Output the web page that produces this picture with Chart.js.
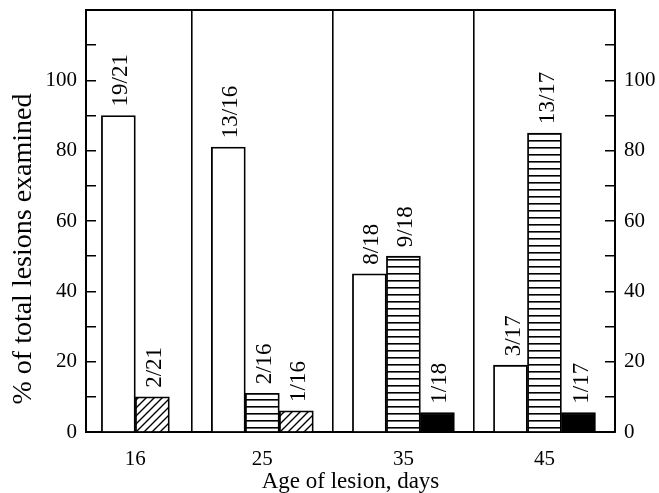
<!DOCTYPE html>
<html><head><meta charset="utf-8">
<script src="https://cdn.jsdelivr.net/npm/chart.js@4"></script>
<style>html,body{margin:0;padding:0;background:#fff;}</style>
</head><body>
<canvas id="c" width="659" height="493"></canvas>
<script>
// Age of lesion (days) for each group, and the group separators (days)
const ages = [16, 25, 35, 45];
const groupBoundaries = [20, 30, 40];
// Percent of total lesions examined, by bar position within each group
const firstValues  = [90, 81, 45, 19];
const secondValues = [10, 11, 50, 85];
const thirdValues  = [null, 6, 5.5, 5.5];
// Fraction labels written above each bar
const firstLabels  = ['19/21', '13/16', '8/18', '3/17'];
const secondLabels = ['2/21', '2/16', '9/18', '13/17'];
const thirdLabels  = [null, '1/16', '1/18', '1/17'];
// Fill style of each bar
const secondFills = ['hatch', 'stripe', 'stripe', 'stripe'];
const thirdFills  = [null, 'hatch', 'solid', 'solid'];
// Y ticks
const yMax = 120, yStep = 10, yLabelStep = 20, yLabelMax = 100;

const FONT = 'Liberation Serif';

function makeFill(kind) {
  if (kind === 'solid') return '#000';
  if (kind === 'white' || !kind) return '#fff';
  const c = document.createElement('canvas');
  const g = c.getContext('2d');
  if (kind === 'stripe') {
    c.width = 8; c.height = 7;
    g.fillStyle = '#fff'; g.fillRect(0, 0, 8, 7);
    g.fillStyle = '#000'; g.fillRect(0, 0, 8, 1.6);
  } else if (kind === 'hatch') {
    c.width = 8; c.height = 8;
    g.fillStyle = '#fff'; g.fillRect(0, 0, 8, 8);
    g.strokeStyle = '#000'; g.lineWidth = 1.4;
    g.beginPath();
    g.moveTo(0, 8); g.lineTo(8, 0);
    g.moveTo(-2, 2); g.lineTo(2, -2);
    g.moveTo(6, 10); g.lineTo(10, 6);
    g.stroke();
  }
  return g.createPattern(c, 'repeat');
}

const barLabelPlugin = {
  id: 'barLabels',
  afterDatasetsDraw(chart) {
    const ctx = chart.ctx;
    chart.data.datasets.forEach((ds, di) => {
      const meta = chart.getDatasetMeta(di);
      meta.data.forEach((bar, i) => {
        const t = ds.barLabels[i];
        if (!t || ds.data[i] == null) return;
        ctx.save();
        ctx.translate(bar.x + 3, bar.y - 9);
        ctx.rotate(-Math.PI / 2);
        ctx.font = '23px "' + FONT + '"';
        ctx.fillStyle = '#000';
        ctx.textAlign = 'left';
        ctx.textBaseline = 'middle';
        ctx.fillText(t, 0, 0);
        ctx.restore();
      });
    });
  }
};

const tickFont = { family: FONT, size: 21 };
const yTickCallback = v => (v % yLabelStep === 0 && v <= yLabelMax) ? String(v) : '';

function yAxis(position, width) {
  return {
    position, min: 0, max: yMax,
    ticks: { stepSize: yStep, autoSkip: false, padding: 19, color: '#000', font: tickFont, callback: yTickCallback },
    grid: { drawOnChartArea: false, drawTicks: true, tickLength: -10, color: '#000', lineWidth: 1.5 },
    border: { display: true, color: '#000', width: 2 },
    afterFit: s => { s.width = width; s.paddingTop = 0; s.paddingBottom = 0; }
  };
}

const leftY = yAxis('left', 86);
leftY.title = { display: true, text: '% of total lesions examined' + '\u00a0'.repeat(8), color: '#000', font: { family: FONT, size: 28 }, padding: { top: 7, bottom: 0 } };

new Chart(document.getElementById('c'), {
  type: 'bar',
  data: {
    labels: ages,
    datasets: [
      { data: firstValues, backgroundColor: '#fff', barLabels: firstLabels },
      { data: secondValues, backgroundColor: secondFills.map(makeFill), barLabels: secondLabels },
      { data: thirdValues, backgroundColor: thirdFills.map(makeFill), barLabels: thirdLabels }
    ]
  },
  options: {
    responsive: false,
    animation: false,
    layout: { padding: 0 },
    datasets: { bar: { skipNull: true, barThickness: 34, borderColor: '#000', borderWidth: 1.8 } },
    plugins: { legend: { display: false }, tooltip: { enabled: false } },
    scales: {
      x: {
        type: 'linear', position: 'bottom', min: 12.5, max: 50, offset: false,
        afterBuildTicks: s => {
          s.ticks = [...ages, ...groupBoundaries].sort((a, b) => a - b).map(v => ({ value: v }));
        },
        grid: {
          offset: false, drawTicks: false, drawOnChartArea: true, lineWidth: 1.6,
          color: c => (c.tick && groupBoundaries.includes(c.tick.value)) ? '#000' : 'rgba(0,0,0,0)'
        },
        border: { display: true, color: '#000', width: 2 },
        ticks: { autoSkip: false, maxRotation: 0, padding: 15, color: '#000', font: tickFont,
                 callback: v => ages.includes(v) ? String(v) : '' },
        title: { display: true, text: 'Age of lesion, days', color: '#000', font: { family: FONT, size: 23 }, padding: { top: 0, bottom: -3 } },
        afterFit: s => { s.height = 61; s.paddingLeft = 0; s.paddingRight = 0; }
      },
      xTop: {
        type: 'linear', position: 'top', min: 12.5, max: 50, offset: false,
        ticks: { display: false },
        grid: { display: false, drawTicks: false, offset: false },
        border: { display: true, color: '#000', width: 2 },
        afterFit: s => { s.height = 10; s.paddingLeft = 0; s.paddingRight = 0; }
      },
      y: leftY,
      y2: yAxis('right', 44)
    }
  },
  plugins: [barLabelPlugin]
});
</script>
</body></html>
